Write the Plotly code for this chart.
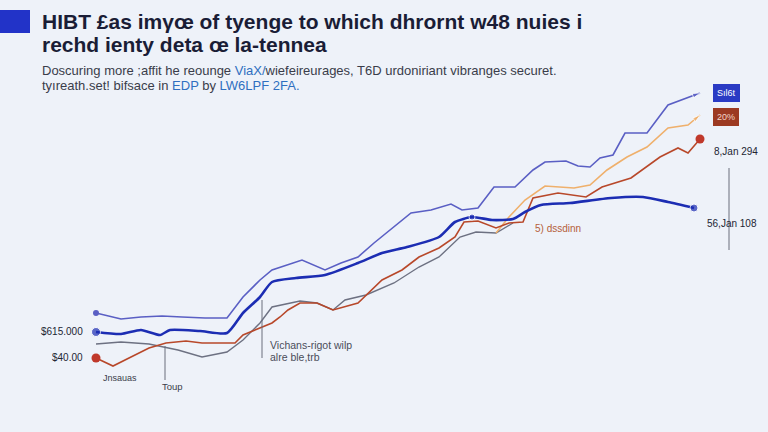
import plotly.graph_objects as go

# ---- data (x positions / values; y axis is inverted) ----
x_purple = [96,121,141,162,182,205,227,243,260,272,302,325,341,358,374,390,411,431,451,462,478,494,515,533,545,566,578,590,600,613,625,647,668,700]
v_purple = [313,319,317,316,317,318,318,297,280,270,260,270,263,257,243,230,213,210,204,210,208,187,187,170,162,161,166,167,158,155,133,133,105,93]

x_blue = [96,121,141,160,170,200,227,243,260,272,296,325,358,382,407,439,455,472,492,513,525,541,570,611,643,668,694]
v_blue = [332,334,330,335,330,331,333,313,297,282,278,275,263,253,247,237,222,217,220,219,212,205,203,198,197,202,208]

x_brown = [96,113,129,149,166,186,202,235,243,260,272,280,288,300,317,333,358,382,402,419,439,455,464,478,496,509,523,533,558,586,602,631,660,678,688,700]
v_brown = [358,366,358,348,343,341,343,343,335,328,323,317,310,303,303,310,303,280,270,257,248,237,222,221,228,223,222,198,193,197,187,178,157,148,153,139]

x_gray = [96,121,149,178,202,227,243,260,272,300,317,333,345,366,394,419,439,460,476,496,513]
v_gray = [344,342,344,350,357,352,340,323,307,301,303,310,300,295,283,267,257,237,232,233,223]

x_orange = [496,509,525,545,574,590,607,627,647,668,688,700]
v_orange = [233,217,200,186,188,185,170,157,147,128,125,115]

title_lines = ["HIBT £as imγœ of tyenge to which dhrornt w48 nuies i",
               "rechd ienty deta œ la-tennea"]
sub_line1 = ("Doscuring more ;affit he reounge <span style='color:#2f6fc0'>ViaX/</span>"
             "wiefeireurages, T6D urdoniriant vibranges securet.")
sub_line2 = ("tyıreath.set! bifsace in <span style='color:#2f6fc0'>EDP</span> by "
             "<span style='color:#2f6fc0'>LW6LPF 2FA.</span>")

C_PURPLE = "#5a5fc4"
C_BLUE = "#1c2db3"
C_BROWN = "#b8482a"
C_GRAY = "#6d7182"
C_ORANGE = "#efb06c"
BG = "#eef2f9"

fig = go.Figure()

fig.add_trace(go.Scatter(x=x_gray, y=v_gray, mode="lines",
                         line=dict(color=C_GRAY, width=1.4)))
fig.add_trace(go.Scatter(x=x_orange, y=v_orange, mode="lines",
                         line=dict(color=C_ORANGE, width=1.6)))
fig.add_trace(go.Scatter(x=x_brown, y=v_brown, mode="lines",
                         line=dict(color=C_BROWN, width=1.6)))
fig.add_trace(go.Scatter(x=x_purple, y=v_purple, mode="lines",
                         line=dict(color=C_PURPLE, width=1.6)))
fig.add_trace(go.Scatter(x=x_blue, y=v_blue, mode="lines",
                         line=dict(color=C_BLUE, width=2.6, shape="spline", smoothing=0.6)))

# end arrows for purple and orange
for xs, vs, c in [(x_purple, v_purple, C_PURPLE), (x_orange, v_orange, C_ORANGE)]:
    fig.add_trace(go.Scatter(x=xs[-2:], y=vs[-2:], mode="markers",
                             marker=dict(symbol="arrow", angleref="previous",
                                         size=[0, 8], color=c)))

# dots
fig.add_trace(go.Scatter(x=[x_purple[0]], y=[v_purple[0]], mode="markers",
                         marker=dict(size=6, color=C_PURPLE)))
fig.add_trace(go.Scatter(x=[x_blue[0], x_blue[-1], x_blue[17]], y=[v_blue[0], v_blue[-1], v_blue[17]],
                         mode="markers", marker=dict(size=[9, 8, 6], color=C_BLUE)))
fig.add_trace(go.Scatter(x=[x_brown[0], x_brown[-1]], y=[v_brown[0], v_brown[-1]], mode="markers",
                         marker=dict(size=9, color="#c0392b")))

shapes = [
    dict(type="rect", xref="x", yref="y", x0=0, x1=30, y0=10, y1=33,
         fillcolor="#2233c8", line=dict(width=0)),
    dict(type="line", xref="x", yref="y", x0=165, x1=165, y0=346, y1=380,
         line=dict(color="#6a6e7c", width=1)),
    dict(type="line", xref="x", yref="y", x0=262, x1=262, y0=300, y1=358,
         line=dict(color="#6a6e7c", width=1)),
    dict(type="line", xref="x", yref="y", x0=729, x1=729, y0=168, y1=250,
         line=dict(color="#6a6e7c", width=1)),
]

F = "Liberation Sans, Arial, sans-serif"
ann = []
def txt(x, y, t, size=10, color="#2a2d3a", xanchor="left", **kw):
    ann.append(dict(x=x, y=y, xref="x", yref="y", text=t, showarrow=False,
                    xanchor=xanchor, yanchor="middle",
                    font=dict(family=F, size=size, color=color), **kw))

# title & subtitle
txt(40, 21, "<b>" + title_lines[0] + "</b>", size=21, color="#1a1d36")
txt(40, 44, "<b>" + title_lines[1] + "</b>", size=21, color="#1a1d36")
txt(40, 70, sub_line1, size=13, color="#3a3d4a")
txt(40, 85, sub_line2, size=13, color="#3a3d4a")

# left labels
txt(85, 331, "$615.000", size=10, xanchor="right", color="#222533")
txt(85, 357, "$40.00", size=10, xanchor="right", color="#222533")
txt(101, 378, "Jnsauas", size=9, color="#3a3d4a")
txt(160, 386, "Toup", size=9.5, color="#3a3d4a")
txt(268, 345, "Vichans-rigot wilp", size=10.5, color="#4a4d5a")
txt(268, 357, "alre ble,trb", size=10.5, color="#4a4d5a")
txt(533, 228, "5) dssdinn", size=10, color="#b5603a")

# right labels
ann.append(dict(x=726, y=93, xref="x", yref="y", text="Sıl6t", showarrow=False,
                font=dict(family=F, size=9, color="white"), bgcolor="#2a3bc4",
                borderpad=3, bordercolor="#2a3bc4"))
ann.append(dict(x=726, y=117, xref="x", yref="y", text="20%", showarrow=False,
                font=dict(family=F, size=9, color="#f3d5c8"), bgcolor="#9c3a22",
                borderpad=3, bordercolor="#9c3a22"))
txt(712, 151, "8,Jan 294", size=10, color="#222533")
txt(705, 223, "56,Jan 108", size=10, color="#222533")

fig.update_layout(
    width=768, height=432,
    margin=dict(l=0, r=0, t=0, b=0),
    paper_bgcolor=BG, plot_bgcolor=BG,
    showlegend=False,
    xaxis=dict(range=[0, 768], visible=False, fixedrange=True),
    yaxis=dict(range=[432, 0], visible=False, fixedrange=True),
    shapes=shapes, annotations=ann,
)

fig.write_html("out.html", config={"displayModeBar": False},
               post_script="document.body.style.margin='0';document.body.style.overflow='hidden';document.body.style.background='" + BG + "';")
